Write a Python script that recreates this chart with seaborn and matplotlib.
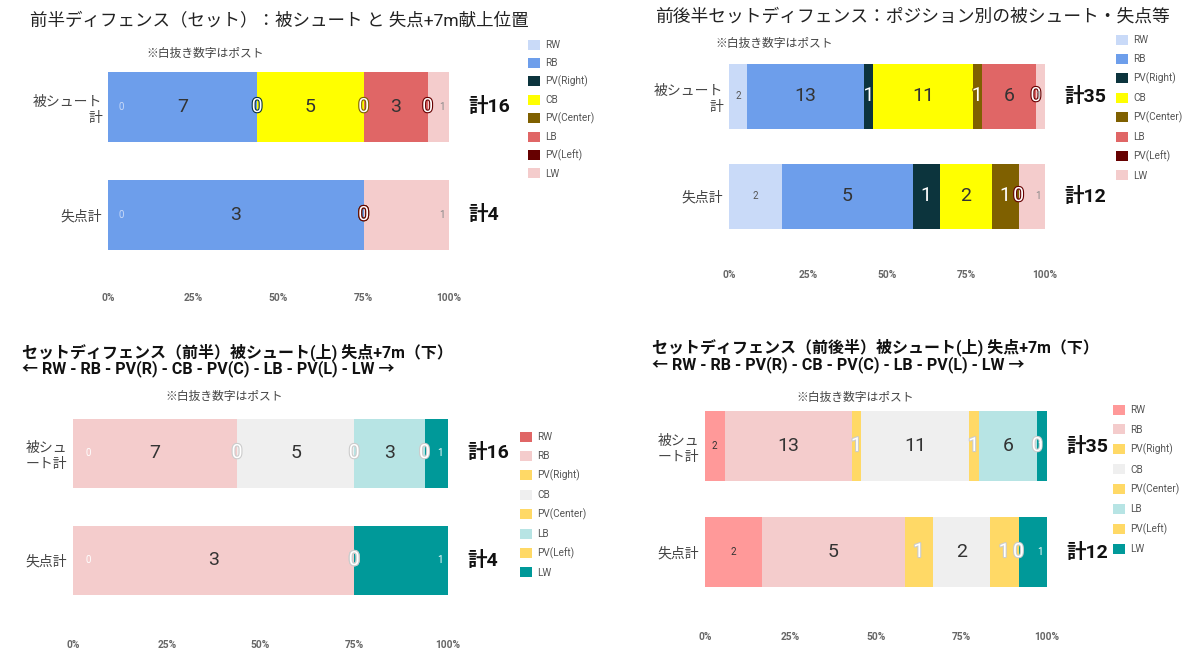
import matplotlib
matplotlib.use("Agg")
import matplotlib.pyplot as plt
import matplotlib.patheffects as pe
from matplotlib.patches import Patch
import pandas as pd
import seaborn as sns

positions = ["RW", "RB", "PV(Right)", "CB", "PV(Center)", "LB", "PV(Left)", "LW"]
posts = ["PV(Right)", "PV(Center)", "PV(Left)"]
wings = ["RW", "LW"]
rows = ["被シュート計", "失点計"]

first_shots = [0, 7, 0, 5, 0, 3, 0, 1]
first_goals = [0, 3, 0, 0, 0, 0, 0, 1]
full_shots = [2, 13, 1, 11, 1, 6, 0, 1]
full_goals = [2, 5, 1, 2, 1, 0, 0, 1]

colors_top = ["#c9daf8", "#6d9eeb", "#0c343d", "#ffff00", "#7f6000", "#e06666", "#660000", "#f4cccc"]
colors_bl = ["#e06666", "#f4cccc", "#ffd966", "#efefef", "#ffd966", "#b7e4e4", "#ffd966", "#009999"]
colors_br = ["#ff9999", "#f4cccc", "#ffd966", "#efefef", "#ffd966", "#b7e4e4", "#ffd966", "#009999"]

sns.set_style("white")
plt.rcParams["font.family"] = ["Roboto", "Noto Sans CJK JP", "DejaVu Sans"]

W, H = 1200, 664
fig = plt.figure(figsize=(12, 6.64), dpi=100)


def fx(px):
    return px / W


def fy(py):
    return 1 - py / H


def make_df(shots, goals):
    recs = []
    for r, vals in zip(rows, [shots, goals]):
        tot = sum(vals)
        cum = 0
        for p, v in zip(positions, vals):
            recs.append({"row": r, "pos": p, "n": v, "left": cum / tot,
                         "right": (cum + v) / tot, "total": tot})
            cum += v
    return pd.DataFrame(recs)


def panel(shots, goals, colors, box, ylabels, wing_col, post_stroke, leg):
    x0, x1, c0, c1, bh, bottom = box
    u = c1 - c0
    top_px = c0 - 0.6 * u
    ax = fig.add_axes([fx(x0), fy(bottom), fx(x1 - x0), (bottom - top_px) / H])
    df = make_df(shots, goals)
    # stacked bars: draw cumulative extents from the right-most position down
    for p, c in reversed(list(zip(positions, colors))):
        sub = df[df["pos"] == p]
        sns.barplot(data=sub, x="right", y="row", order=rows, color=c,
                    saturation=1, width=bh / u, orient="h", errorbar=None,
                    linewidth=0, ax=ax)
    ax.set_xlim(0, 1)
    ax.set_ylim(1 + (bottom - c1) / u, -0.6)
    ax.set_xlabel("")
    ax.set_ylabel("")
    ax.set_xticks([0, 0.25, 0.5, 0.75, 1])
    ax.set_xticklabels(["0%", "25%", "50%", "75%", "100%"], fontsize=7.3,
                       fontweight="bold", color="#666666")
    ax.set_yticks([0, 1])
    ax.set_yticklabels(ylabels, fontsize=10, color="#444444", multialignment="right")
    ax.tick_params(length=0, axis="x", pad=2)
    ax.tick_params(length=0, axis="y", pad=4)
    sns.despine(ax=ax, left=True, bottom=True)

    for i, r in enumerate(rows):
        sub = df[df["row"] == r]
        for _, rec in sub.iterrows():
            cx = (rec["left"] + rec["right"]) / 2
            if rec["pos"] == "RW":
                if rec["n"] == 0:
                    cx = 0.04
                ax.text(cx, i, str(rec["n"]), ha="center", va="center",
                        fontsize=7, color=wing_col["RW"])
            elif rec["pos"] == "LW":
                ax.text(0.978, i, str(rec["n"]), ha="center", va="center",
                        fontsize=7, color=wing_col["LW"])
            elif rec["pos"] in posts:
                ax.text(cx, i, str(rec["n"]), ha="center", va="center",
                        fontsize=14, color="white",
                        path_effects=[pe.withStroke(linewidth=1.6,
                                                    foreground=post_stroke[rec["pos"]])])
            elif rec["n"] > 0:
                ax.text(cx, i, str(rec["n"]), ha="center", va="center",
                        fontsize=14, color="#333333")
        ax.text(1 + 19 / (x1 - x0), i, f"計{sub['total'].iloc[0]}", ha="left",
                va="center", fontsize=14, fontweight="bold", color="#111111")

    lx, ly, lsp = leg
    handles = [Patch(facecolor=c, edgecolor="none") for c in colors]
    fig.legend(handles, positions, loc="upper left",
               bbox_to_anchor=(fx(lx), fy(ly)), frameon=False, fontsize=7.2,
               handlelength=1.15, handleheight=1.15, handletextpad=0.6,
               labelspacing=lsp, labelcolor="#555555", borderaxespad=0,
               borderpad=0)
    return ax


post_dark = {"PV(Right)": "#0c343d", "PV(Center)": "#7f6000", "PV(Left)": "#660000"}
post_light = {"PV(Right)": "#cccccc", "PV(Center)": "#cccccc", "PV(Left)": "#cccccc"}

panel(first_shots, first_goals, colors_top, (108, 449, 107, 215, 70, 290),
      ["被シュート\n計", "失点計"], {"RW": "#c9daf8", "LW": "#888888"},
      post_dark, (528, 40, 0.75))
panel(full_shots, full_goals, colors_top, (729, 1045, 96, 196, 65, 267),
      ["被シュート\n計", "失点計"], {"RW": "#555555", "LW": "#888888"},
      post_dark, (1116, 35, 0.85))
panel(first_shots, first_goals, colors_bl, (73, 448, 453, 560, 69, 637),
      ["被シュ\nート計", "失点計"], {"RW": "white", "LW": "white"},
      post_light, (520, 432, 0.85))
panel(full_shots, full_goals, colors_br, (705, 1047, 446, 552, 70, 629),
      ["被シュ\nート計", "失点計"], {"RW": "#333333", "LW": "white"},
      post_light, (1113, 405, 0.9))

# titles
fig.text(fx(30), fy(20), "前半ディフェンス（セット）：被シュート と 失点+7m献上位置",
         fontsize=12.6, color="#222222", va="center")
fig.text(fx(655), fy(17), "前後半セットディフェンス：ポジション別の被シュート・失点等",
         fontsize=12.8, color="#222222", va="center")
fig.text(fx(22), fy(352), "セットディフェンス（前半）被シュート(上) 失点+7m（下）",
         fontsize=11.5, fontweight="bold", color="#111111", va="center")
fig.text(fx(22), fy(369), "← RW - RB - PV(R) - CB - PV(C) - LB - PV(L) - LW →",
         fontsize=11.5, fontweight="bold", color="#111111", va="center")
fig.text(fx(652), fy(347), "セットディフェンス（前後半）被シュート(上) 失点+7m（下）",
         fontsize=11.5, fontweight="bold", color="#111111", va="center")
fig.text(fx(652), fy(365), "← RW - RB - PV(R) - CB - PV(C) - LB - PV(L) - LW →",
         fontsize=11.5, fontweight="bold", color="#111111", va="center")

# notes
note = "※白抜き数字はポスト"
for x, y in [(205, 53), (774, 43), (224, 396), (855, 397)]:
    fig.text(fx(x), fy(y), note, fontsize=8.5, color="#444444",
             ha="center", va="center")

fig.savefig("out.png", dpi=100)
